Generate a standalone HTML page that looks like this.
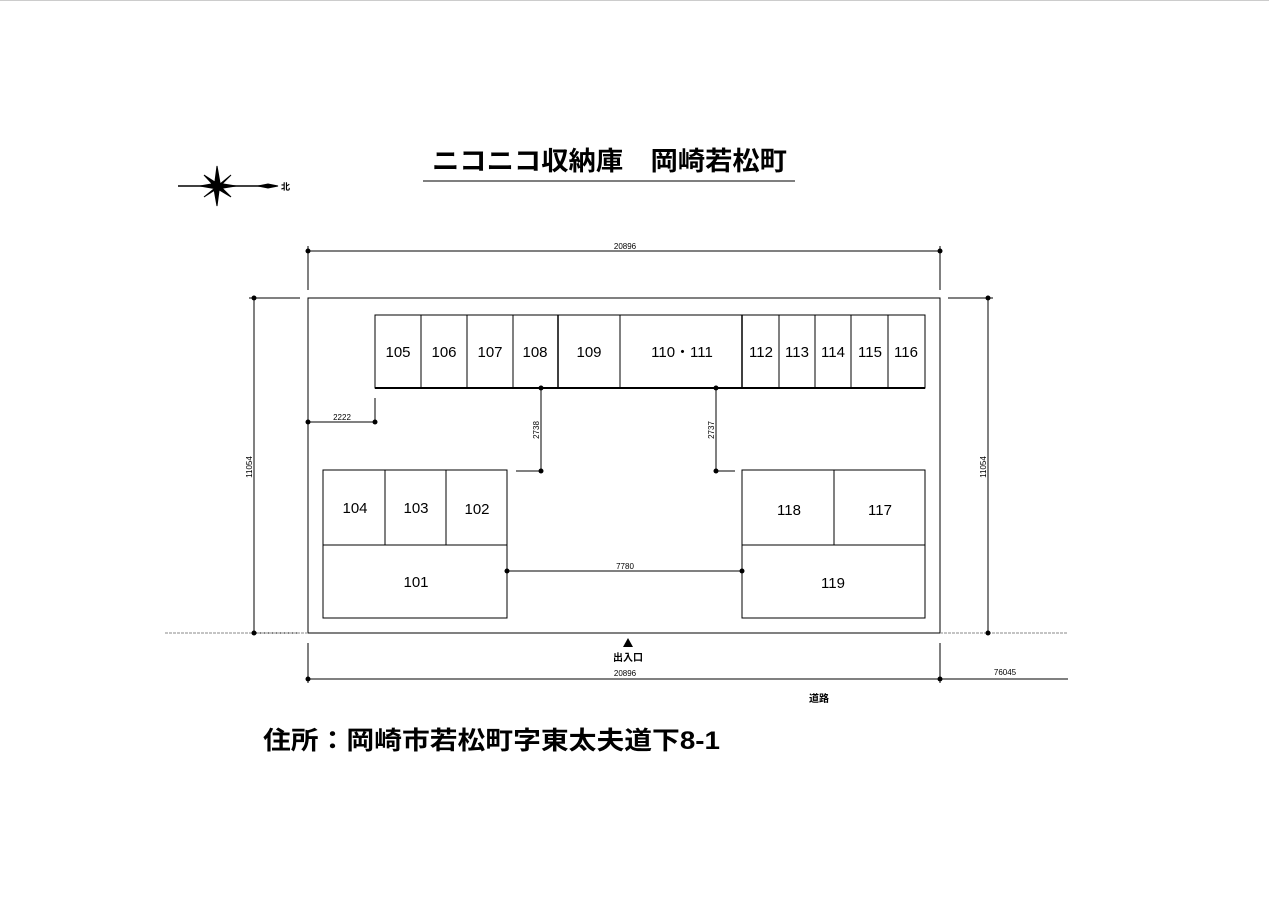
<!DOCTYPE html>
<html><head><meta charset="utf-8"><style>
html,body{margin:0;padding:0;background:#fff;}
svg{display:block;}
text{font-family:"Liberation Sans","Noto Sans CJK JP",sans-serif;fill:#000;}
</style></head><body>
<svg width="1269" height="897" viewBox="0 0 1269 897" xmlns="http://www.w3.org/2000/svg">
<line x1="0" y1="0.5" x2="1269" y2="0.5" stroke="#ccc" stroke-width="1"/>
<text x="432" y="170" font-size="26" font-weight="bold" textLength="355" lengthAdjust="spacingAndGlyphs" font-family="Noto Sans CJK JP, sans-serif">ニコニコ収納庫　岡崎若松町</text>
<line x1="423" y1="181" x2="795" y2="181" stroke="#555" stroke-width="1.5"/>
<!-- compass -->
<g stroke="#000" fill="#000">
<line x1="178" y1="186" x2="262" y2="186" stroke-width="1.5"/>
<polygon points="258,186 268,184 278,186 268,188"/>
<polygon points="217,166 220,183 217,206 214,189"/>
<polygon points="204,175 218,184 231,197 216,188"/>
<polygon points="231,175 218,188 204,197 220,184"/>
<polygon points="200,186 217,183 236,186 217,189"/>
</g>
<text x="281" y="190" font-size="9" font-weight="bold" font-family="Noto Sans CJK JP, sans-serif" fill="#203080">北</text>
<g stroke="#000" stroke-width="1" fill="none">
<line x1="308" y1="251" x2="940" y2="251"/>
<line x1="308" y1="246" x2="308" y2="290"/>
<line x1="940" y1="246" x2="940" y2="290"/>
<rect x="308" y="298" width="632" height="335"/>
<line x1="254" y1="298" x2="254" y2="633"/>
<line x1="249" y1="298" x2="300" y2="298"/>
<line x1="249" y1="633" x2="300" y2="633"/>
<line x1="988" y1="298" x2="988" y2="633"/>
<line x1="948" y1="298" x2="993" y2="298"/>
<line x1="165" y1="633" x2="308" y2="633" stroke="#888" stroke-dasharray="3,1"/>
<line x1="940" y1="633" x2="1068" y2="633" stroke="#888" stroke-dasharray="3,1"/>
<line x1="308" y1="679" x2="1068" y2="679"/>
<line x1="308" y1="643" x2="308" y2="683"/>
<line x1="940" y1="643" x2="940" y2="683"/>
<rect x="375" y="315" width="550" height="73"/>
<line x1="375" y1="388" x2="925" y2="388" stroke-width="2"/>
<line x1="421" y1="315" x2="421" y2="388"/>
<line x1="467" y1="315" x2="467" y2="388"/>
<line x1="513" y1="315" x2="513" y2="388"/>
<line x1="558" y1="315" x2="558" y2="388" stroke-width="1.5"/>
<line x1="620" y1="315" x2="620" y2="388"/>
<line x1="742" y1="315" x2="742" y2="388" stroke-width="1.5"/>
<line x1="779" y1="315" x2="779" y2="388"/>
<line x1="815" y1="315" x2="815" y2="388"/>
<line x1="851" y1="315" x2="851" y2="388"/>
<line x1="888" y1="315" x2="888" y2="388"/>
<line x1="308" y1="422" x2="375" y2="422"/>
<line x1="375" y1="398" x2="375" y2="422"/>
<line x1="541" y1="388" x2="541" y2="471"/>
<line x1="516" y1="471" x2="541" y2="471"/>
<line x1="716" y1="388" x2="716" y2="471"/>
<line x1="716" y1="471" x2="735" y2="471"/>
<rect x="323" y="470" width="184" height="148"/>
<line x1="323" y1="545" x2="507" y2="545"/>
<line x1="385" y1="470" x2="385" y2="545"/>
<line x1="446" y1="470" x2="446" y2="545"/>
<rect x="742" y="470" width="183" height="148"/>
<line x1="742" y1="545" x2="925" y2="545"/>
<line x1="834" y1="470" x2="834" y2="545"/>
<line x1="507" y1="571" x2="742" y2="571"/>
</g>
<g fill="#000">
<circle cx="308" cy="251" r="2.5"/><circle cx="940" cy="251" r="2.5"/>
<circle cx="254" cy="298" r="2.5"/><circle cx="254" cy="633" r="2.5"/>
<circle cx="988" cy="298" r="2.5"/><circle cx="988" cy="633" r="2.5"/>
<circle cx="308" cy="679" r="2.5"/><circle cx="940" cy="679" r="2.5"/>
<circle cx="308" cy="422" r="2.5"/><circle cx="375" cy="422" r="2.5"/>
<circle cx="541" cy="388" r="2.5"/><circle cx="541" cy="471" r="2.5"/>
<circle cx="716" cy="388" r="2.5"/><circle cx="716" cy="471" r="2.5"/>
<circle cx="507" cy="571" r="2.5"/><circle cx="742" cy="571" r="2.5"/>
<polygon points="628,638 623,647 633,647"/>
</g>
<g font-size="15" text-anchor="middle">
<text x="398" y="357">105</text><text x="444" y="357">106</text><text x="490" y="357">107</text>
<text x="535" y="357">108</text><text x="589" y="357">109</text><text x="682" y="357">110・111</text>
<text x="761" y="357">112</text><text x="797" y="357">113</text><text x="833" y="357">114</text>
<text x="870" y="357">115</text><text x="906" y="357">116</text>
<text x="355" y="513">104</text><text x="416" y="513">103</text><text x="477" y="514">102</text>
<text x="416" y="587">101</text>
<text x="789" y="515">118</text><text x="880" y="515">117</text>
<text x="833" y="588">119</text>
</g>
<g font-size="8" text-anchor="middle">
<text x="625" y="249">20896</text>
<text x="342" y="420">2222</text>
<text x="625" y="569">7780</text>
<text x="625" y="676">20896</text>
<text x="1005" y="675">76045</text>
<text transform="translate(539,430) rotate(-90)">2738</text>
<text transform="translate(714,430) rotate(-90)">2737</text>
<text transform="translate(252,467) rotate(-90)">11054</text>
<text transform="translate(986,467) rotate(-90)">11054</text>
</g>
<text x="628" y="661" font-size="10" font-weight="bold" text-anchor="middle" font-family="Noto Sans CJK JP, sans-serif">出入口</text>
<text x="819" y="702" font-size="10" font-weight="bold" text-anchor="middle" font-family="Noto Sans CJK JP, sans-serif">道路</text>
<text x="263" y="749" font-size="25" font-weight="bold" textLength="457" lengthAdjust="spacingAndGlyphs" font-family="Noto Sans CJK JP, sans-serif">住所：岡崎市若松町字東太夫道下8-1</text>
</svg>
</body></html>
